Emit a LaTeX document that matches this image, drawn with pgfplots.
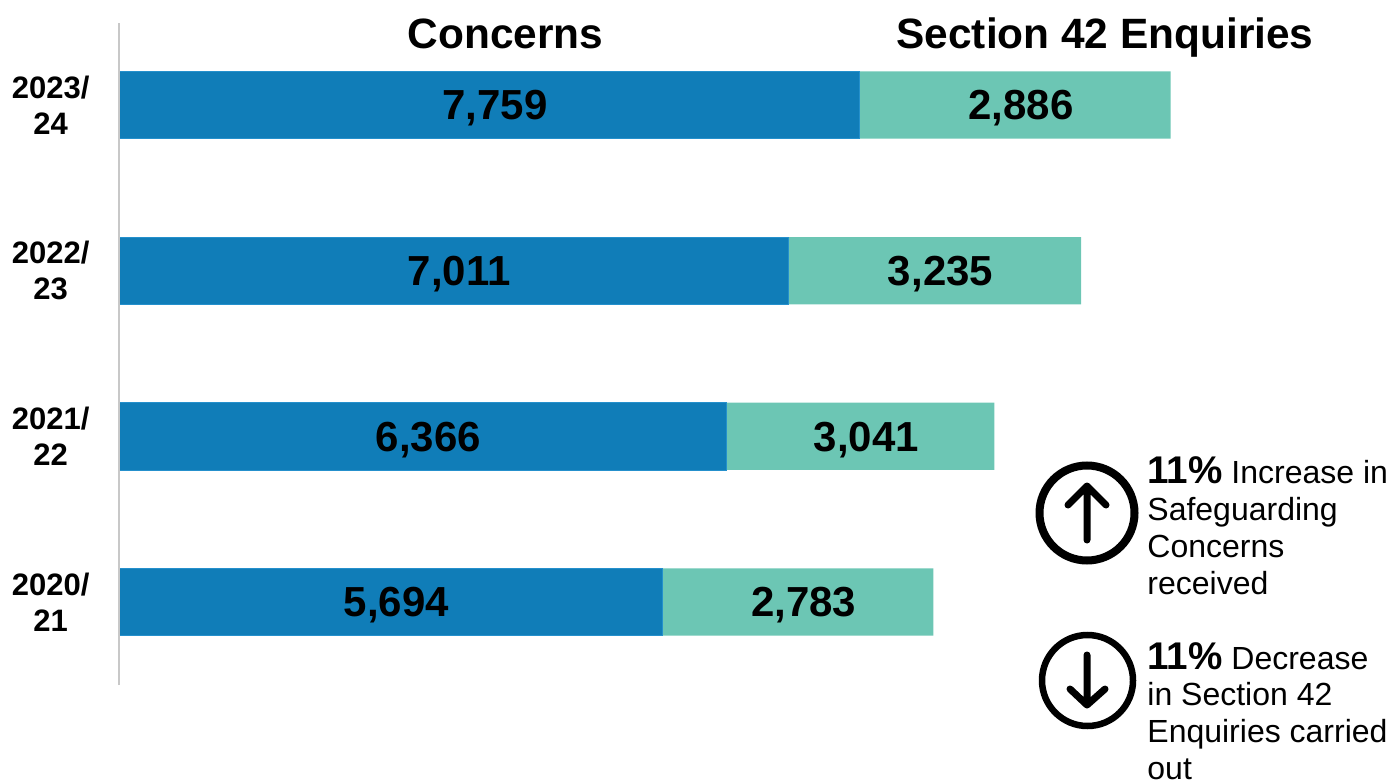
\documentclass[border=0pt]{standalone}
\usepackage{fontspec}
\setmainfont{Liberation Sans}
\usepackage{pgfplots}
\pgfplotsset{compat=1.18}
\definecolor{concern}{HTML}{107DB8}
\definecolor{concernedge}{HTML}{2590CC}
\definecolor{enquiry}{HTML}{6CC6B4}
\definecolor{axisgrey}{HTML}{C8C8C8}
\begin{document}
\begin{tikzpicture}[x=0.5pt,y=-0.5pt]
\path (0,0) rectangle (1391,780);
\begin{axis}[
at={(59.25pt,-342.5pt)},anchor=south west,
scale only axis,
width=636.5pt,height=331pt,
xbar stacked,bar width=33.6pt,
xmin=0,xmax=13330,
ymin=-0.501,ymax=3.495,
axis on top,
axis x line=none,
axis y line*=left,
y axis line style={draw=axisgrey,line width=1pt,-},
ytick={0,1,2,3},
yticklabels={{2020/\\21},{2021/\\22},{2022/\\23},{2023/\\24}},
yticklabel style={font=\bfseries\fontsize{15.5}{18.2}\selectfont,align=center,xshift=-11pt},
major tick length=0pt,
nodes near coords,
point meta=explicit symbolic,
every node near coord/.style={font=\bfseries\fontsize{21}{24}\selectfont,black,anchor=center,xshift=3pt,yshift=-1.75pt},
clip=false,
]
\addplot[fill=concern,draw=concernedge,line width=0.4pt] coordinates {(5694,0)[5,694] (6366,1)[6,366] (7011,2)[7,011] (7759,3)[7,759]};
% bar lengths as drawn in the picture, which differ from the printed labels
\addplot[fill=enquiry,draw=none] coordinates {(2838,0)[2,783] (2806,1)[3,041] (3068,2)[3,235] (3257,3)[2,886]};
\end{axis}
\node[anchor=base,font=\bfseries\fontsize{21.2}{24}\selectfont] at (505.5,49) {Concerns};
\node[anchor=base,font=\bfseries\fontsize{21.2}{24}\selectfont] at (1105,49) {Section 42 Enquiries};
\draw[line width=4pt] (1087,513) circle (47.5);
\draw[line width=3.5pt,line cap=round,line join=round] (1087,540) -- (1087,486) (1068,505) -- (1087,486) -- (1106,505);
\draw[line width=3.25pt] (1087.5,680.5) circle (45.5);
\draw[line width=3.5pt,line cap=round,line join=round] (1087,655) -- (1087,705) (1070,689) -- (1087,705) -- (1105,689);
\node[anchor=north west,inner sep=0pt,align=left,font=\fontsize{16}{18.6}\selectfont] at (1147,456) {{\bfseries\fontsize{19.3}{18.6}\selectfont 11\%} Increase in\\Safeguarding\\Concerns\\received};
\node[anchor=north west,inner sep=0pt,align=left,font=\fontsize{16}{18.3}\selectfont] at (1147,642) {{\bfseries\fontsize{19.3}{18.3}\selectfont 11\%} Decrease\\in Section 42\\Enquiries carried\\out};
\end{tikzpicture}
\end{document}
